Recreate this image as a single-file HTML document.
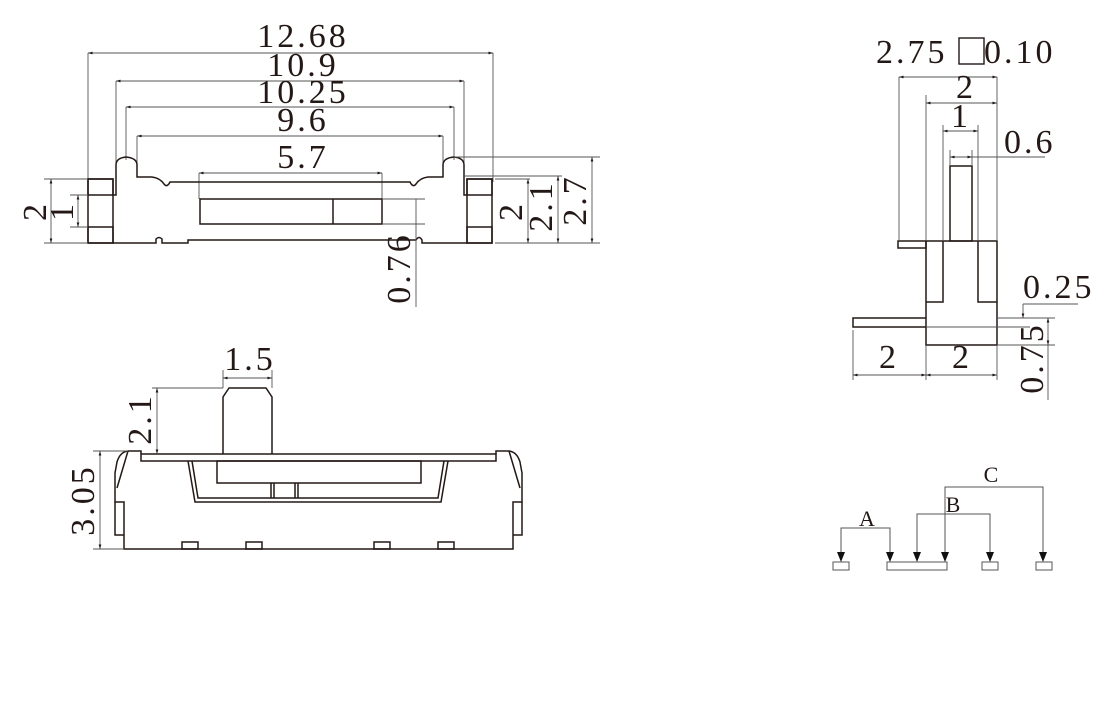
<!DOCTYPE html>
<html><head><meta charset="utf-8"><style>
html,body{margin:0;padding:0;background:#fff;}
svg{display:block;}
text{font-family:"Liberation Serif",serif;fill:#231815;}
.t{font-size:34px;letter-spacing:3px;}
.s{font-size:22px;}
.o{stroke:#231815;stroke-width:1.5;fill:none;}
.d{stroke:#555;stroke-width:0.9;fill:none;}
</style></head><body>
<svg width="1120" height="722" viewBox="0 0 1120 722" xmlns="http://www.w3.org/2000/svg">
<defs>
<marker id="a" viewBox="0 0 10 10" refX="10" refY="5" markerWidth="7" markerHeight="5" orient="auto-start-reverse"><path d="M0,2 L10,5 L0,8 z" fill="#231815"/></marker>
</defs>

<!-- ===== TOP VIEW ===== -->
<g class="d">
<line x1="88" y1="53" x2="88" y2="182"/><line x1="493" y1="53" x2="493" y2="182"/>
<line x1="116" y1="81" x2="116" y2="170"/><line x1="464" y1="81" x2="464" y2="170"/>
<line x1="126" y1="107" x2="126" y2="160"/><line x1="454" y1="107" x2="454" y2="160"/>
<line x1="137" y1="136" x2="137" y2="175"/><line x1="443" y1="136" x2="443" y2="175"/>
<line x1="199" y1="173" x2="199" y2="199"/><line x1="382" y1="173" x2="382" y2="199"/>
</g>
<g class="d" marker-start="url(#a)" marker-end="url(#a)">
<line x1="88" y1="53" x2="493" y2="53"/>
<line x1="116" y1="81" x2="464" y2="81"/>
<line x1="126" y1="107" x2="454" y2="107"/>
<line x1="137" y1="136" x2="443" y2="136"/>
<line x1="199" y1="173" x2="382" y2="173"/>
</g>
<text class="t" x="303" y="47" text-anchor="middle">12.68</text>
<text class="t" x="303" y="76" text-anchor="middle">10.9</text>
<text class="t" x="303" y="103" text-anchor="middle">10.25</text>
<text class="t" x="303" y="131" text-anchor="middle">9.6</text>
<text class="t" x="303" y="168" text-anchor="middle">5.7</text>

<g class="o">
<rect x="88" y="179" width="25" height="64"/>
<rect x="88" y="179" width="25" height="16"/>
<rect x="88" y="227" width="25" height="16"/>
<rect x="467" y="179" width="25" height="64"/>
<rect x="467" y="179" width="25" height="16"/>
<rect x="467" y="227" width="25" height="16"/>
<path d="M113,195 L116,195 L116,165 Q116,158 126,157 Q137,158 137,165 L137,177 L152,177 Q160,178 164,184 Q167,188 170,182 L410,182 Q413,188 416,184 Q420,178 428,177 L443,177 L443,165 Q443,158 454,157 Q464,158 464,165 L464,195 L467,195"/>
<path d="M113,243 L156,243 L156,239 Q159,236 162,239 L162,243 L188,243 L188,240 L416,240 Q419,235 422,240 L422,243 L467,243"/>
<rect x="200" y="199" width="182" height="25"/>
<line x1="333" y1="199" x2="333" y2="224"/>
</g>
<g class="d">
<line x1="44" y1="179" x2="88" y2="179"/><line x1="44" y1="243" x2="88" y2="243"/>
<line x1="70" y1="195" x2="88" y2="195"/><line x1="70" y1="227" x2="88" y2="227"/>
<line x1="51" y1="179" x2="51" y2="243" marker-start="url(#a)" marker-end="url(#a)"/>
<line x1="78" y1="195" x2="78" y2="227" marker-start="url(#a)" marker-end="url(#a)"/>
</g>
<text class="t" transform="translate(46,211) rotate(-90)" text-anchor="middle">2</text>
<text class="t" transform="translate(73,211) rotate(-90)" text-anchor="middle">1</text>
<g class="d">
<line x1="495" y1="243" x2="600" y2="243"/>
<line x1="454" y1="157" x2="600" y2="157"/>
<line x1="464" y1="176" x2="562" y2="176"/>
<line x1="495" y1="179" x2="530" y2="179"/>
<line x1="528" y1="179" x2="528" y2="243" marker-start="url(#a)" marker-end="url(#a)"/>
<line x1="558" y1="176" x2="558" y2="243" marker-start="url(#a)" marker-end="url(#a)"/>
<line x1="592" y1="157" x2="592" y2="243" marker-start="url(#a)" marker-end="url(#a)"/>
<line x1="383" y1="199" x2="425" y2="199"/><line x1="383" y1="224" x2="425" y2="224"/>
<line x1="416" y1="199" x2="416" y2="307"/>
</g>
<text class="t" transform="translate(522,211) rotate(-90)" text-anchor="middle">2</text>
<text class="t" transform="translate(552,206) rotate(-90)" text-anchor="middle">2.1</text>
<text class="t" transform="translate(586,200) rotate(-90)" text-anchor="middle">2.7</text>
<text class="t" transform="translate(410,268) rotate(-90)" text-anchor="middle">0.76</text>

<!-- ===== FRONT VIEW ===== -->
<g class="o">
<path d="M223,454 L223,397 L229,388 L266,388 L272,397 L272,454"/>
<rect x="141" y="454" width="355" height="7"/>
<path d="M141,454 L141,451 L128,451 Q120,452 117,462 L115,473 L115,502 L124,502 L124,549 L513,549 L513,502 L522,502 L522,473 L520,462 Q517,452 509,451 L496,451 L496,454"/>
<path d="M128,451 L117,488 M509,451 L520,488"/>
<path d="M115,502 L115,535 L124,535 M522,502 L522,535 L513,535"/>
<path d="M188,461 L195,502 L441,502 L448,461"/>
<path d="M192,461 L198,498 L438,498 L444,461"/>
<rect x="217" y="461" width="204" height="22"/>
<path d="M271,483 L271,498 M274,483 L274,498 M295,483 L295,498 M298,483 L298,498"/>
<rect x="182" y="542" width="16" height="7"/>
<rect x="246" y="542" width="16" height="7"/>
<rect x="374" y="542" width="16" height="7"/>
<rect x="438" y="542" width="16" height="7"/>
</g>
<g class="d">
<line x1="223" y1="370" x2="223" y2="388"/><line x1="272" y1="370" x2="272" y2="388"/>
<line x1="223" y1="378" x2="272" y2="378" marker-start="url(#a)" marker-end="url(#a)"/>
<line x1="152" y1="388" x2="223" y2="388"/>
<line x1="157" y1="388" x2="157" y2="454" marker-start="url(#a)" marker-end="url(#a)"/>
<line x1="93" y1="451" x2="128" y2="451"/><line x1="93" y1="549" x2="124" y2="549"/>
<line x1="100" y1="451" x2="100" y2="549" marker-start="url(#a)" marker-end="url(#a)"/>
</g>
<text class="t" x="250" y="370" text-anchor="middle">1.5</text>
<text class="t" transform="translate(151,419) rotate(-90)" text-anchor="middle">2.1</text>
<text class="t" transform="translate(94,500) rotate(-90)" text-anchor="middle">3.05</text>

<!-- ===== SIDE VIEW ===== -->
<g class="o">
<rect x="950" y="166" width="22" height="75"/>
<rect x="926" y="241" width="71" height="104"/>
<path d="M943,241 L943,302 L926,302 M978,241 L978,302 L997,302"/>
<rect x="898" y="241" width="28" height="7"/>
<path d="M926,318 L853,318 L853,327 L926,327"/>
</g>
<g class="d">
<line x1="926" y1="327" x2="1030" y2="327"/>
<line x1="997" y1="318" x2="1055" y2="318"/>
<line x1="997" y1="345" x2="1055" y2="345"/>
<line x1="1023" y1="304" x2="1078" y2="304"/>
<line x1="1023" y1="304" x2="1023" y2="318" marker-end="url(#a)"/>
<line x1="1048" y1="318" x2="1048" y2="345" marker-start="url(#a)" marker-end="url(#a)"/>
<line x1="1048" y1="345" x2="1048" y2="400"/>
<line x1="853" y1="330" x2="853" y2="380"/><line x1="926" y1="345" x2="926" y2="380"/><line x1="997" y1="345" x2="997" y2="380"/>
<line x1="853" y1="375" x2="926" y2="375" marker-start="url(#a)" marker-end="url(#a)"/>
<line x1="926" y1="375" x2="997" y2="375" marker-start="url(#a)" marker-end="url(#a)"/>
<line x1="899" y1="77" x2="899" y2="241"/><line x1="997" y1="77" x2="997" y2="241"/>
<line x1="926" y1="95" x2="926" y2="241"/>
<line x1="943" y1="125" x2="943" y2="241"/><line x1="978" y1="125" x2="978" y2="241"/>
<line x1="950" y1="150" x2="950" y2="166"/><line x1="972" y1="150" x2="972" y2="166"/>
<line x1="899" y1="77" x2="997" y2="77" marker-start="url(#a)" marker-end="url(#a)"/>
<line x1="926" y1="103" x2="997" y2="103" marker-start="url(#a)" marker-end="url(#a)"/>
<line x1="943" y1="131" x2="978" y2="131" marker-start="url(#a)" marker-end="url(#a)"/>
<line x1="950" y1="157" x2="972" y2="157" marker-start="url(#a)" marker-end="url(#a)"/>
<line x1="972" y1="157" x2="1045" y2="157"/>
</g>
<rect x="959" y="38" width="25" height="26" fill="none" stroke="#231815" stroke-width="1.4"/>
<text class="t" x="876" y="63">2.75</text>
<text class="t" x="984" y="63">0.10</text>
<text class="t" x="966" y="98" text-anchor="middle">2</text>
<text class="t" x="961" y="127" text-anchor="middle">1</text>
<text class="t" x="1004" y="153">0.6</text>
<text class="t" x="1023" y="298">0.25</text>
<text class="t" transform="translate(1043,358) rotate(-90)" text-anchor="middle">0.75</text>
<text class="t" x="889" y="368" text-anchor="middle">2</text>
<text class="t" x="962" y="368" text-anchor="middle">2</text>

<!-- ===== SCHEMATIC ===== -->
<g stroke="#555" stroke-width="1" fill="none">
<rect x="833" y="562" width="16" height="8"/>
<rect x="887" y="562" width="60" height="8"/>
<rect x="982" y="562" width="16" height="8"/>
<rect x="1036" y="562" width="16" height="8"/>
<path d="M841,560 L841,528 L890,528 L890,560"/>
<path d="M917,560 L917,514 L990,514 L990,560"/>
<path d="M945,560 L945,487 L1043,487 L1043,560"/>
</g>
<g fill="#111">
<path d="M837,552 L845,552 L841,562 z"/><path d="M886,552 L894,552 L890,562 z"/>
<path d="M913,552 L921,552 L917,562 z"/><path d="M941,552 L949,552 L945,562 z"/>
<path d="M986,552 L994,552 L990,562 z"/><path d="M1039,552 L1047,552 L1043,562 z"/>
</g>
<text class="s" x="867" y="526" text-anchor="middle">A</text>
<text class="s" x="953" y="512" text-anchor="middle">B</text>
<text class="s" x="991" y="482" text-anchor="middle">C</text>
</svg>
</body></html>
